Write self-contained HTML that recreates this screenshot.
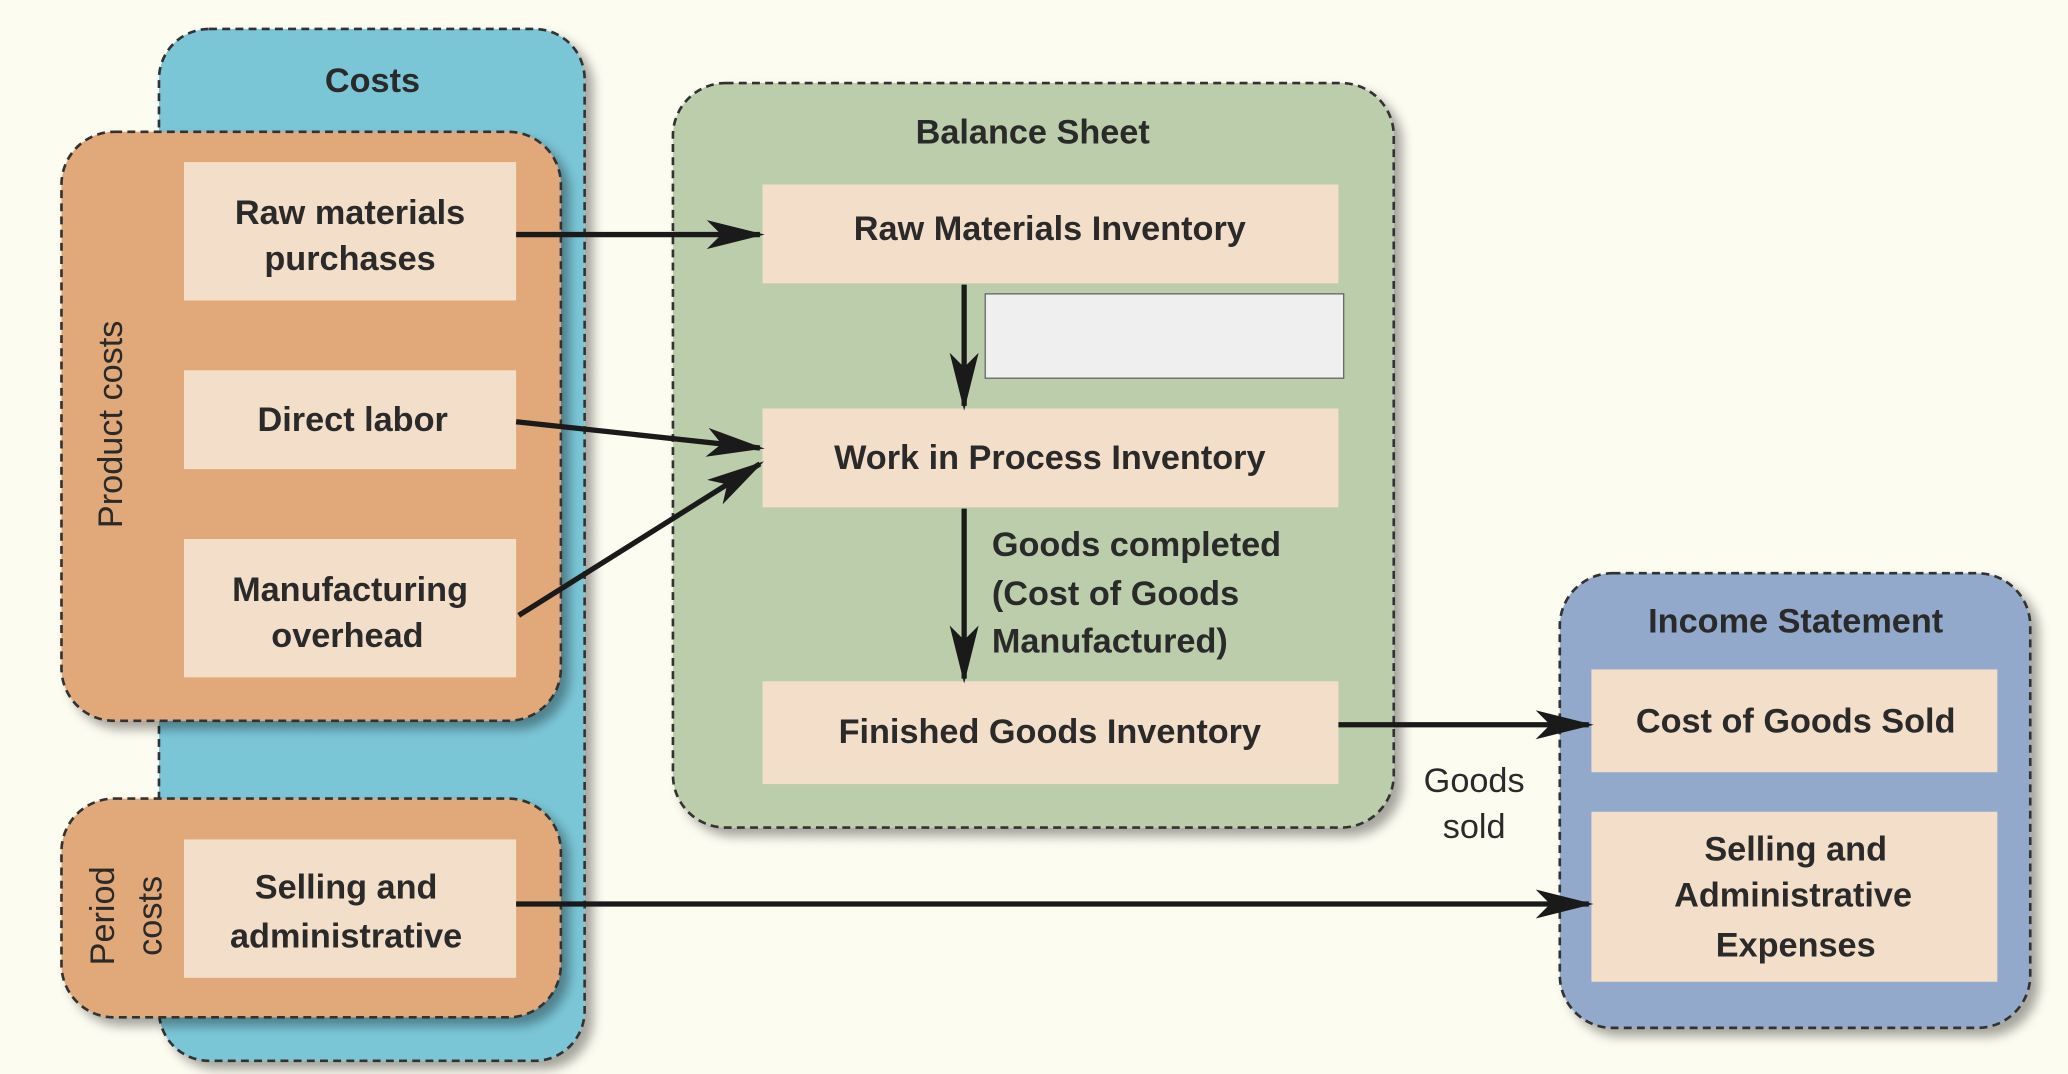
<!DOCTYPE html>
<html><head><meta charset="utf-8"><style>
html,body{margin:0;padding:0;background:#fdfcf1;}
svg{display:block}
text{font-family:"Liberation Sans",sans-serif;font-weight:bold;fill:#2a2a2a;}
</style></head><body>
<svg width="2068" height="1074" viewBox="0 0 1568 815" xmlns="http://www.w3.org/2000/svg">
<defs>
<marker id="a" markerWidth="10" markerHeight="8" refX="9" refY="4" orient="auto" markerUnits="userSpaceOnUse" viewBox="0 0 10 8">
</marker>
<marker id="ah" viewBox="0 0 12 10" refX="11" refY="5" markerWidth="44" markerHeight="22" markerUnits="userSpaceOnUse" orient="auto" preserveAspectRatio="none"><path d="M0,0 L12,5 L0,10 L3,5 z" fill="#1a1a1a"/></marker>
<filter id="sh" x="-10%" y="-10%" width="130%" height="130%"><feDropShadow dx="6" dy="6" stdDeviation="4" flood-color="#000" flood-opacity="0.35"/></filter>
</defs>
<rect width="1568" height="815" fill="#fdfcf1"/>
<g stroke="#333" stroke-width="2" stroke-dasharray="6,4">
<rect x="120" y="22" width="323" height="783" rx="38" fill="#7ac6d7" filter="url(#sh)"/>
<rect x="46" y="100" width="379" height="447" rx="40" fill="#e1a979" filter="url(#sh)"/>
<rect x="46" y="606" width="379" height="166" rx="40" fill="#e1a979" filter="url(#sh)"/>
<rect x="510" y="63" width="547" height="565" rx="40" fill="#bccdac" filter="url(#sh)"/>
<rect x="1183" y="435" width="357" height="345" rx="40" fill="#93a9cc" filter="url(#sh)"/>
</g>
<g fill="#f3dfc9">
<rect x="139" y="123" width="252" height="105"/>
<rect x="139" y="281" width="252" height="75"/>
<rect x="139" y="409" width="252" height="105"/>
<rect x="139" y="637" width="252" height="105"/>
<rect x="578" y="140" width="437" height="75"/>
<rect x="578" y="310" width="437" height="75"/>
<rect x="578" y="517" width="437" height="78"/>
<rect x="1207" y="508" width="308" height="78"/>
<rect x="1207" y="616" width="308" height="129"/>
</g>
<rect x="747" y="223" width="272" height="64" fill="#efefef" stroke="#666" stroke-width="1"/>
<g stroke="#1a1a1a" stroke-width="4" fill="none" marker-end="url(#ah)">
<line x1="391" y1="178" x2="576" y2="178"/>
<line x1="391" y1="320" x2="576" y2="340"/>
<line x1="393" y1="467" x2="576" y2="352"/>
<line x1="731" y1="216" x2="731" y2="308"/>
<line x1="731" y1="386" x2="731" y2="515"/>
<line x1="1015" y1="550" x2="1205" y2="550"/>
<line x1="391" y1="686" x2="1205" y2="686"/>
</g>
<g font-size="26" text-anchor="middle">
<text x="282" y="70">Costs</text>
<text x="783" y="109">Balance Sheet</text>
<text x="1362" y="480">Income Statement</text>
<text x="265" y="170">Raw materials</text>
<text x="265" y="205">purchases</text>
<text x="267" y="327">Direct labor</text>
<text x="265" y="456">Manufacturing</text>
<text x="263" y="491">overhead</text>
<text x="262" y="682">Selling and</text>
<text x="262" y="719">administrative</text>
<text x="796" y="182">Raw Materials Inventory</text>
<text x="796" y="356">Work in Process Inventory</text>
<text x="796" y="564">Finished Goods Inventory</text>
<text x="1362" y="556">Cost of Goods Sold</text>
<text x="1362" y="653">Selling and</text>
<text x="1360" y="688">Administrative</text>
<text x="1362" y="726">Expenses</text>
</g>
<g font-size="26">
<text x="752" y="422">Goods completed</text>
<text x="752" y="459">(Cost of Goods</text>
<text x="752" y="495">Manufactured)</text>
</g>
<g font-size="26" text-anchor="middle" style="font-weight:normal">
<text x="1118" y="601" style="font-weight:normal">Goods</text>
<text x="1118" y="636" style="font-weight:normal">sold</text>
<text transform="translate(92,322) rotate(-90)" style="font-weight:normal">Product costs</text>
<text transform="translate(86,695) rotate(-90)" style="font-weight:normal">Period</text>
<text transform="translate(122,695) rotate(-90)" style="font-weight:normal">costs</text>
</g>
</svg>
</body></html>
